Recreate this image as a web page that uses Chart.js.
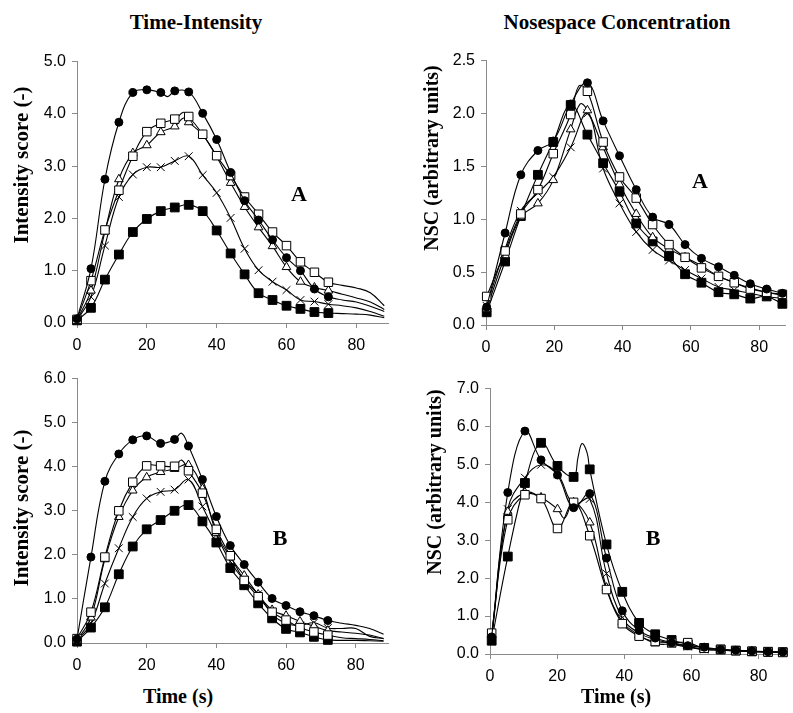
<!DOCTYPE html>
<html>
<head>
<meta charset="utf-8">
<script src="https://cdn.jsdelivr.net/npm/chart.js@4.4.1/dist/chart.umd.min.js"></script>
<style>
  html, body { margin: 0; padding: 0; background: #fff; overflow: hidden; }
  #fig { position: relative; width: 793px; height: 713px; }
  canvas.panel { position: absolute; }
  .lbl {
    position: absolute; color: #000; white-space: nowrap; line-height: 1;
    font-family: "Liberation Serif", "Times New Roman", serif; font-weight: bold;
    transform: translate(-50%, -50%);
  }
  .rot { transform: translate(-50%, -50%) rotate(-90deg); }
</style>
</head>
<body>
<div id="fig">
  <canvas id="tiA" class="panel"></canvas>
  <canvas id="nscA" class="panel"></canvas>
  <canvas id="tiB" class="panel"></canvas>
  <canvas id="nscB" class="panel"></canvas>

  <div class="lbl" style="left:196px;top:22px;font-size:21px">Time-Intensity</div>
  <div class="lbl" style="left:617px;top:22px;font-size:21px">Nosespace Concentration</div>
  <div class="lbl rot" style="left:21px;top:165px;font-size:21px">Intensity score (-)</div>
  <div class="lbl rot" style="left:21px;top:508px;font-size:21px">Intensity score (-)</div>
  <div class="lbl rot" style="left:431px;top:158px;font-size:20px">NSC (arbitrary units)</div>
  <div class="lbl rot" style="left:434px;top:482px;font-size:20px">NSC (arbitrary units)</div>
  <div class="lbl" style="left:299px;top:194px;font-size:22px">A</div>
  <div class="lbl" style="left:700px;top:181px;font-size:22px">A</div>
  <div class="lbl" style="left:280px;top:538px;font-size:22px">B</div>
  <div class="lbl" style="left:653px;top:538px;font-size:22px">B</div>
  <div class="lbl" style="left:178px;top:696px;font-size:20px">Time (s)</div>
  <div class="lbl" style="left:616px;top:696px;font-size:20px">Time (s)</div>
</div>
<script>
// --- data ---
// time-intensity: sampled every 4 s, markers only up to 72 s
const tiTimes = [0, 4, 8, 12, 16, 20, 24, 28, 32, 36, 40, 44, 48, 52, 56, 60, 64, 68, 72, 76, 80, 84, 88];
const tiMarkerEnd = 72;

const tiACircle   = [0.08, 1.04, 2.75, 3.84, 4.41, 4.46, 4.41, 4.44, 4.42, 4.01, 3.51, 2.88, 2.34, 1.97, 1.59, 1.25, 1.00, 0.65, 0.50, 0.44, 0.40, 0.32, 0.22];
const tiAOpenSq   = [0.07, 0.81, 1.78, 2.54, 3.19, 3.66, 3.82, 3.90, 3.95, 3.61, 3.20, 2.82, 2.41, 2.08, 1.74, 1.48, 1.17, 0.97, 0.78, 0.72, 0.67, 0.58, 0.33];
const tiATriangle = [0.06, 0.62, 1.75, 2.75, 3.25, 3.40, 3.65, 3.76, 3.84, 3.60, 3.18, 2.68, 2.22, 1.83, 1.47, 1.07, 0.79, 0.68, 0.62, 0.55, 0.48, 0.40, 0.26];
const tiACross    = [0.05, 0.50, 1.48, 2.41, 2.84, 2.98, 2.98, 3.10, 3.19, 2.83, 2.49, 2.01, 1.42, 1.01, 0.79, 0.63, 0.44, 0.41, 0.36, 0.33, 0.29, 0.22, 0.13];
const tiAFilledSq = [0.05, 0.29, 0.83, 1.31, 1.74, 1.99, 2.14, 2.21, 2.26, 2.14, 1.77, 1.33, 0.93, 0.57, 0.44, 0.33, 0.27, 0.21, 0.19, 0.18, 0.17, 0.15, 0.10];

const tiBCircle   = [0.09, 1.95, 3.67, 4.29, 4.61, 4.70, 4.53, 4.62, 4.47, 3.71, 2.87, 2.21, 1.78, 1.38, 1.01, 0.85, 0.71, 0.62, 0.51, 0.45, 0.40, 0.33, 0.20];
const tiBOpenSq   = [0.10, 0.70, 1.95, 3.00, 3.65, 4.02, 4.02, 4.01, 3.91, 3.40, 2.58, 1.98, 1.42, 1.05, 0.70, 0.52, 0.35, 0.25, 0.18, 0.12, 0.10, 0.08, 0.05];
const tiBTriangle = [0.05, 0.58, 1.90, 2.86, 3.46, 3.76, 3.88, 3.95, 4.04, 3.50, 2.50, 1.95, 1.53, 1.10, 0.75, 0.62, 0.49, 0.38, 0.28, 0.25, 0.22, 0.18, 0.10];
const tiBCross    = [0.05, 0.45, 1.35, 2.15, 2.86, 3.28, 3.43, 3.48, 3.71, 3.10, 2.45, 1.85, 1.42, 1.11, 0.65, 0.45, 0.40, 0.46, 0.34, 0.33, 0.33, 0.15, 0.10];
const tiBFilledSq = [0.03, 0.35, 0.81, 1.56, 2.19, 2.58, 2.79, 3.00, 3.13, 2.76, 2.28, 1.70, 1.31, 0.90, 0.56, 0.32, 0.24, 0.14, 0.07, 0.06, 0.06, 0.05, 0.04];

// nosespace concentration: marker times
const nscATimes = [0.2, 5.6, 10.2, 15.2, 19.7, 24.8, 29.7, 34.3, 39.1, 44.0, 48.8, 53.6, 58.3, 63.1, 68.1, 72.7, 77.4, 82.2, 86.8];
const nscACircle   = [0.17, 0.87, 1.42, 1.65, 1.74, 2.09, 2.29, 1.93, 1.60, 1.28, 1.02, 0.95, 0.76, 0.63, 0.55, 0.47, 0.39, 0.34, 0.30];
const nscAOpenSq   = [0.27, 0.70, 1.05, 1.28, 1.62, 1.99, 2.21, 1.73, 1.40, 1.20, 0.95, 0.76, 0.64, 0.54, 0.46, 0.40, 0.34, 0.31, 0.29];
const nscATriangle = [0.15, 0.66, 1.02, 1.15, 1.37, 1.85, 2.03, 1.68, 1.33, 1.05, 0.83, 0.72, 0.64, 0.56, 0.46, 0.40, 0.35, 0.31, 0.28];
const nscACross    = [0.18, 0.72, 1.08, 1.25, 1.40, 1.68, 2.00, 1.48, 1.15, 0.88, 0.71, 0.61, 0.52, 0.44, 0.36, 0.33, 0.30, 0.27, 0.25];
const nscAFilledSq = [0.12, 0.60, 1.03, 1.42, 1.73, 2.08, 1.80, 1.53, 1.26, 0.96, 0.79, 0.65, 0.48, 0.40, 0.31, 0.29, 0.25, 0.27, 0.20];

const nscBTimes = [0.5, 5.3, 10.4, 15.2, 20.1, 24.9, 29.7, 34.7, 39.4, 44.4, 49.2, 54.1, 58.9, 63.8, 68.7, 73.2, 78.0, 82.8, 87.2];
const nscBCircle   = [0.45, 4.26, 5.88, 5.12, 4.72, 3.86, 4.23, 2.53, 1.14, 0.62, 0.42, 0.30, 0.22, 0.18, 0.12, 0.10, 0.08, 0.06, 0.05];
const nscBOpenSq   = [0.55, 3.54, 4.20, 4.10, 3.31, 4.00, 3.12, 1.70, 0.80, 0.47, 0.33, 0.30, 0.30, 0.15, 0.12, 0.09, 0.07, 0.05, 0.04];
const nscBTriangle = [0.50, 3.75, 4.26, 4.13, 3.82, 4.00, 3.47, 1.75, 0.85, 0.50, 0.28, 0.25, 0.18, 0.12, 0.10, 0.08, 0.07, 0.05, 0.04];
const nscBCross    = [0.40, 3.82, 4.65, 4.99, 4.75, 3.95, 4.09, 2.12, 0.95, 0.55, 0.38, 0.28, 0.20, 0.12, 0.10, 0.08, 0.07, 0.05, 0.04];
const nscBFilledSq = [0.35, 2.57, 4.51, 5.57, 4.96, 4.67, 4.87, 2.89, 1.64, 0.82, 0.52, 0.37, 0.25, 0.16, 0.12, 0.09, 0.07, 0.06, 0.05];

// extra points on the smoothed lines between markers (no marker drawn) [time, value]
const tiACircleExtra    = [[26, 4.33]];
const tiAOpenSqExtra    = [[30.5, 4.03]];
const tiATriangleExtra  = [[30.5, 3.92]];
const tiBCircleExtra    = [[30, 4.76]];
const tiBOpenSqExtra    = [[30, 4.15]];
const nscAOpenSqExtra   = [[27.2, 2.26]];
const nscATriangleExtra = [[27.6, 2.09]];
const nscBTriangleExtra = [[22.2, 3.58]];
const nscBFilledSqExtra = [[26.2, 5.18], [27.4, 5.55], [28.9, 5.31]];

// axis tick labels
const tiATicks  = ['0.0', '1.0', '2.0', '3.0', '4.0', '5.0'];
const nscATicks = ['0.0', '0.5', '1.0', '1.5', '2.0', '2.5'];
const tiBTicks  = ['0.0', '1.0', '2.0', '3.0', '4.0', '5.0', '6.0'];
const nscBTicks = ['0.0', '1.0', '2.0', '3.0', '4.0', '5.0', '6.0', '7.0'];
const xTicks = [0, 20, 40, 60, 80];

// --- styling ---
const AXIS_GRAY = '#8a8a8a';
const Y_W = 70, X_H = 38, PAD_T = 14;
const markerStyles = [
  { style: 'circle',   r: 4,   fill: '#000' },   // filled circle
  { style: 'rect',     r: 6,   fill: '#fff' },   // open square
  { style: 'triangle', r: 5,   fill: '#fff' },   // open triangle
  { style: 'crossRot', r: 5.5, fill: '#000' },   // x
  { style: 'rect',     r: 6.2, fill: '#000' }    // filled square
];

function buildPoints(times, values, extras, markerEnd) {
  let pts = times.map((t, i) => ({ x: t, y: values[i], m: t <= markerEnd }));
  (extras || []).forEach(e => pts.push({ x: e[0], y: e[1], m: false }));
  pts.sort((a, b) => a.x - b.x);
  return pts;
}

function makePanel(id, area, xMax, yLabels, times, seriesList, markerEnd) {
  const padR = area.right >= 793 ? 0 : 6;
  const left = area.left - Y_W;
  const top = area.top - PAD_T;
  const width = area.right + padR - left;
  const height = area.bottom + X_H - top;
  const canvas = document.getElementById(id);
  canvas.width = width; canvas.height = height;
  canvas.style.left = left + 'px'; canvas.style.top = top + 'px';
  canvas.style.width = width + 'px'; canvas.style.height = height + 'px';

  const yMax = parseFloat(yLabels[yLabels.length - 1]);
  const yStep = parseFloat(yLabels[1]) - parseFloat(yLabels[0]);
  const tickFont = { family: '"Liberation Sans", Arial, sans-serif', size: 16 };

  const datasets = seriesList.map((s, k) => {
    const st = markerStyles[k];
    return {
      data: buildPoints(times, s.values, s.extra, markerEnd),
      borderColor: '#000',
      borderWidth: 1.1,
      tension: 0.4,
      fill: false,
      clip: false,
      pointStyle: st.style,
      pointRadius: c => (c.raw && c.raw.m) ? st.r : 0,
      pointBackgroundColor: st.fill,
      pointBorderColor: '#000',
      pointBorderWidth: 1
    };
  });

  new Chart(canvas, {
    type: 'line',
    data: { datasets: datasets },
    options: {
      responsive: false,
      animation: false,
      events: [],
      layout: { padding: { top: PAD_T, right: padR, left: 0, bottom: 0 } },
      plugins: { legend: { display: false }, tooltip: { enabled: false } },
      scales: {
        x: {
          type: 'linear', min: 0, max: xMax,
          grid: { display: true, drawOnChartArea: false, drawTicks: true, tickLength: 5, color: AXIS_GRAY },
          border: { display: true, color: AXIS_GRAY, width: 1 },
          ticks: { stepSize: 20, includeBounds: false, padding: 8, color: '#000', font: tickFont, maxRotation: 0 },
          afterBuildTicks: s => { s.ticks = xTicks.map(v => ({ value: v })); },
          afterFit: s => { s.height = X_H; }
        },
        y: {
          type: 'linear', min: 0, max: yMax,
          grid: { display: true, drawOnChartArea: false, drawTicks: true, tickLength: 5, color: AXIS_GRAY },
          border: { display: true, color: AXIS_GRAY, width: 1 },
          ticks: { stepSize: yStep, padding: 6, color: '#000', font: tickFont,
                   callback: (v, i) => yLabels[i] },
          afterBuildTicks: s => { s.ticks = yLabels.map(l => ({ value: parseFloat(l) })); },
          afterFit: s => { s.width = Y_W; }
        }
      }
    }
  });
}

makePanel('tiA', { left: 77, right: 390, top: 60, bottom: 323 }, 89.3, tiATicks, tiTimes, [
  { values: tiACircle, extra: tiACircleExtra },
  { values: tiAOpenSq, extra: tiAOpenSqExtra },
  { values: tiATriangle, extra: tiATriangleExtra },
  { values: tiACross },
  { values: tiAFilledSq }
], tiMarkerEnd);

makePanel('nscA', { left: 486, right: 793, top: 59, bottom: 325 }, 87.8, nscATicks, nscATimes, [
  { values: nscACircle },
  { values: nscAOpenSq, extra: nscAOpenSqExtra },
  { values: nscATriangle, extra: nscATriangleExtra },
  { values: nscACross },
  { values: nscAFilledSq }
], 999);

makePanel('tiB', { left: 77, right: 390, top: 377, bottom: 643 }, 89.5, tiBTicks, tiTimes, [
  { values: tiBCircle, extra: tiBCircleExtra },
  { values: tiBOpenSq, extra: tiBOpenSqExtra },
  { values: tiBTriangle },
  { values: tiBCross },
  { values: tiBFilledSq }
], tiMarkerEnd);

makePanel('nscB', { left: 490, right: 793, top: 387, bottom: 654 }, 88.1, nscBTicks, nscBTimes, [
  { values: nscBCircle },
  { values: nscBOpenSq },
  { values: nscBTriangle, extra: nscBTriangleExtra },
  { values: nscBCross },
  { values: nscBFilledSq, extra: nscBFilledSqExtra }
], 999);
</script>
</body>
</html>
